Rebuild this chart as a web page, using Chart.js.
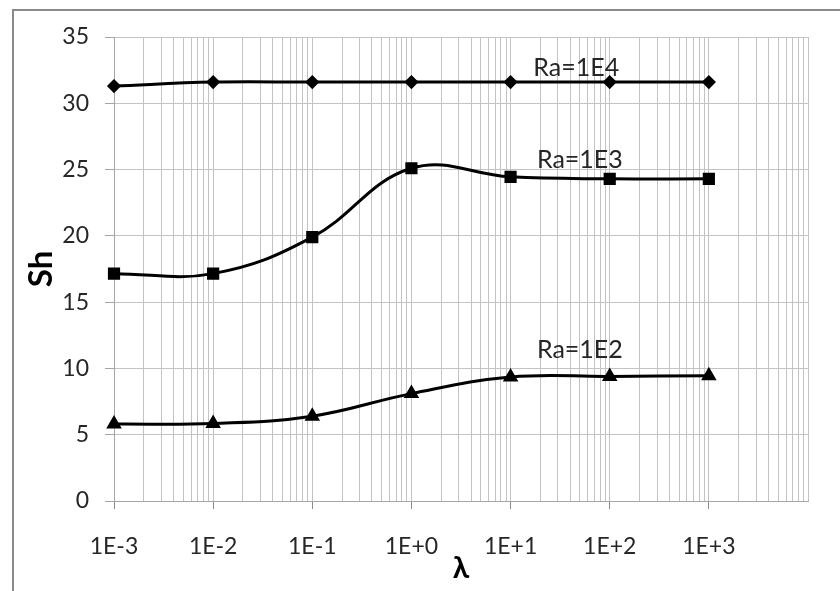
<!DOCTYPE html>
<html>
<head>
<meta charset="utf-8">
<script src="https://cdn.jsdelivr.net/npm/chart.js@4.4.1/dist/chart.umd.min.js"></script>
<style>
  html, body { margin: 0; padding: 0; background: #fff; }
  #wrap { position: relative; width: 840px; height: 591px; overflow: hidden; }
  #frame { position: absolute; left: 12px; top: 9px; width: 900px; height: 700px;
           border-left: 2px solid #8a8a8a; border-top: 2px solid #8a8a8a; }
  #chart { position: absolute; left: 0; top: 0; }
</style>
</head>
<body>
<div id="wrap">
  <div id="frame"></div>
  <canvas id="chart" width="840" height="591"></canvas>
</div>
<script>
var lambdas = [1e-3, 1e-2, 1e-1, 1e0, 1e1, 1e2, 1e3];
var sh_ra1e4 = [31.3, 31.6, 31.6, 31.6, 31.6, 31.6, 31.6];
var sh_ra1e3 = [17.15, 17.15, 19.9, 25.1, 24.45, 24.3, 24.3];
var sh_ra1e2 = [5.8, 5.85, 6.4, 8.1, 9.35, 9.4, 9.45];
var series_names = ['Ra=1E4', 'Ra=1E3', 'Ra=1E2'];
var tick_labels = ['1E-3', '1E-2', '1E-1', '1E+0', '1E+1', '1E+2', '1E+3'];

// where the curve names sit (data coords)
var name_anchors = [[46, 32.7], [50, 25.7], [50, 11.4]];

var FONT = 'Lato, "Open Sans", sans-serif';

function pts(ys) {
  return lambdas.map(function (x, i) { return {x: x, y: ys[i]}; });
}

function isDecade(index) {
  return index % 9 === 0 && index < 9 * tick_labels.length;
}

var curveNames = {
  id: 'curveNames',
  afterDatasetsDraw: function (chart) {
    var ctx = chart.ctx, xs = chart.scales.x, ys = chart.scales.y;
    ctx.save();
    ctx.font = '25px ' + FONT;
    ctx.fillStyle = '#262626';
    ctx.textAlign = 'center';
    ctx.textBaseline = 'middle';
    series_names.forEach(function (name, i) {
      ctx.fillText(name, xs.getPixelForValue(name_anchors[i][0]), ys.getPixelForValue(name_anchors[i][1]));
    });
    ctx.restore();
  }
};

var lineStyle = {borderColor: '#000', backgroundColor: '#000', borderWidth: 3, tension: 0.4, clip: false, fill: false};

var chart = new Chart(document.getElementById('chart'), {
  type: 'line',
  data: {
    datasets: [
      Object.assign({label: series_names[0], data: pts(sh_ra1e4), pointStyle: 'rectRot', pointRadius: 5}, lineStyle),
      Object.assign({label: series_names[1], data: pts(sh_ra1e3), pointStyle: 'rect', pointRadius: 6.5}, lineStyle),
      Object.assign({label: series_names[2], data: pts(sh_ra1e2), pointStyle: 'triangle', pointRadius: 6}, lineStyle)
    ]
  },
  options: {
    responsive: false,
    animation: false,
    layout: {padding: {top: 37, right: 32, left: 0, bottom: 0}},
    plugins: {legend: {display: false}, tooltip: {enabled: false}},
    scales: {
      x: {
        type: 'logarithmic',
        min: 1e-3,
        max: 1e4,
        afterBuildTicks: function (scale) {
          var t = [];
          for (var e = -3; e <= 3; e++) {
            for (var m = 1; m <= 9; m++) t.push({value: m * Math.pow(10, e)});
          }
          t.push({value: 1e4});
          scale.ticks = t;
        },
        afterFit: function (scale) { scale.height = 90; },
        ticks: {
          autoSkip: false,
          maxRotation: 0,
          padding: 24,
          color: '#262626',
          font: {family: FONT, size: 23},
          callback: function (v, index) { return isDecade(index) ? tick_labels[index / 9] : ''; }
        },
        grid: {
          color: '#c3c3c3',
          tickLength: 8,
          tickColor: function (c) { return isDecade(c.index) ? '#8a8a8a' : 'rgba(0,0,0,0)'; }
        },
        border: {color: '#a6a6a6'},
        title: {display: true, text: 'λ', color: '#000', font: {family: FONT, size: 30, weight: 'bold'}, padding: {top: 0, bottom: 5}}
      },
      y: {
        min: 0,
        max: 35,
        afterFit: function (scale) { scale.width = 114; },
        ticks: {stepSize: 5, padding: 16, color: '#262626', font: {family: FONT, size: 23}},
        grid: {color: '#c3c3c3', tickLength: 9, tickColor: '#a6a6a6'},
        border: {color: '#a6a6a6'},
        title: {display: true, text: 'Sh', color: '#000', font: {family: FONT, size: 33, weight: 'bold'}, padding: {top: 22}}
      }
    }
  },
  plugins: [curveNames]
});
</script>
</body>
</html>
